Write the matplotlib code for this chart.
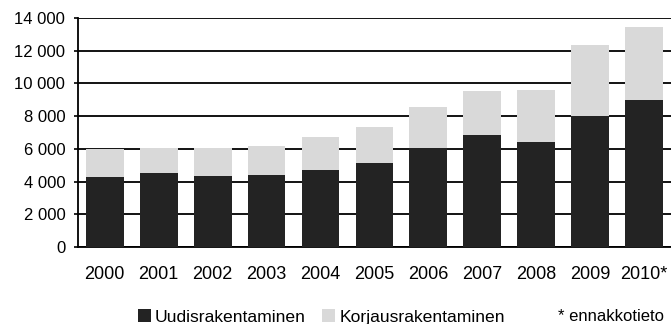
import matplotlib.pyplot as plt
import numpy as np

years = ["2000", "2001", "2002", "2003", "2004", "2005", "2006", "2007", "2008", "2009", "2010*"]
uudis = [4280, 4520, 4340, 4400, 4700, 5130, 6050, 6850, 6420, 8010, 8990]
yhteensa = [5990, 6050, 6050, 6170, 6720, 7340, 8560, 9540, 9600, 12350, 13450]
korjaus = [t - u for t, u in zip(yhteensa, uudis)]
yticks = [0, 2000, 4000, 6000, 8000, 10000, 12000, 14000]

plt.rcParams['font.family'] = ['Liberation Sans', 'DejaVu Sans']
plt.rcParams['font.size'] = 12

fig = plt.figure(figsize=(6.71, 3.24), dpi=100)
ax = fig.add_axes([0.116, 0.238, 0.884, 0.706])

x = np.arange(len(years))
ax.bar(x, uudis, width=0.7, color='#232323', zorder=3, label='Uudisrakentaminen')
ax.bar(x, korjaus, width=0.7, bottom=uudis, color='#d9d9d9', zorder=3, label='Korjausrakentaminen')

ax.set_xlim(-0.5, len(years) - 0.5)
ax.set_ylim(0, 14000)
ax.set_yticks(yticks)
ax.set_yticklabels([f"{v:,}".replace(",", " ") for v in yticks])
ax.set_xticks(x)
ax.set_xticklabels(years, fontsize=13)
ax.tick_params(axis='x', length=0, pad=14)
ax.tick_params(axis='y', length=3, width=1.2, pad=6)

ax.grid(axis='y', color='black', linewidth=1.3, zorder=0)
for s in ['top', 'right']:
    ax.spines[s].set_visible(False)
for s in ['left', 'bottom']:
    ax.spines[s].set_linewidth(1.3)

fig.legend(loc='center left', bbox_to_anchor=(0.205, 0.022), ncol=2, frameon=False,
           borderaxespad=0, borderpad=0,
           handlelength=0.75, handleheight=0.75, handletextpad=0.25, columnspacing=0.9,
           fontsize=12.6)
fig.text(558 / 671, 0.022, "* ennakkotieto", fontsize=12, va='center')

fig.savefig("out.png", dpi=100)
